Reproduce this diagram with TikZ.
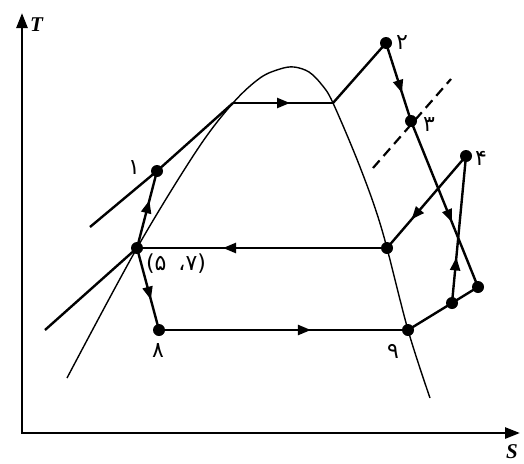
\documentclass[tikz,border=0pt]{standalone}
\usepackage{fontspec}
\setmainfont{Liberation Serif}
\newfontfamily\fa{DejaVu Sans}
\usetikzlibrary{arrows.meta,decorations.markings}
\begin{document}
\begin{tikzpicture}[x=1pt,y=-1pt,
  thickline/.style={line width=2.4pt},
  thinline/.style={line width=1.4pt},
  axisline/.style={line width=2.6pt,line join=miter,
     arrows={Triangle[length=15pt,width=11pt]-Triangle[length=15pt,width=11pt]}},
  dot/.style={circle,fill=black,inner sep=0pt,minimum size=12pt},
  midarrow/.style={postaction={decorate},decoration={markings,
     mark=at position #1 with {\arrow{Triangle[length=13pt,width=10pt]}}}},
  lab/.style={font=\fa\fontsize{22}{22}\selectfont,inner sep=0pt},
  axlab/.style={font=\fontsize{21}{21}\selectfont\bfseries\itshape,inner sep=0pt}]
\useasboundingbox (0,0) rectangle (524,463);

% axes
\coordinate (ytop) at (22,13);
\coordinate (O) at (22,433);
\coordinate (xend) at (520,433);
\draw[axisline] (ytop) -- (O) -- (xend);
\node[axlab,anchor=west] (T) at (30,25) {T};
\node[axlab,anchor=south east] (S) at (518,459) {S};

% saturation dome
\draw[thinline] plot[smooth,tension=0.55] coordinates {
  (67,378) (137,248) (197,150) (233,103) (260,78) (280,69) (294,67)
  (309,72) (322,85) (333,103) (360,167) (382,230) (408,330) (430,398)};

% state points
\node[dot] (p1) at (157,171) {};
\node[dot] (p2) at (386,43) {};
\node[dot] (p3) at (411,121) {};
\node[dot] (p4) at (466,156) {};
\node[dot] (p57) at (137,248) {};
\node[dot] (p8) at (159,330) {};
\node[dot] (p9) at (408,330) {};
\node[dot] (pv) at (387,248) {};
\node[dot] (pa) at (478,287) {};
\node[dot] (pb) at (452,303) {};
\coordinate (A) at (233,103);
\coordinate (B) at (333,103);
\coordinate (t1) at (90,227);
\coordinate (t2) at (45,330);
\coordinate (d1) at (373,168);
\coordinate (d2) at (451,79);

% tangent lines
\draw[thickline] (t1) -- (p1.center) -- (A);
\draw[thickline] (t2) -- (p57.center);

% cycle
\draw[thickline,midarrow=0.57] (A) -- (B);
\draw[thickline] (B) -- (p2.center);
\draw[thickline,midarrow=0.64] (p2.center) -- (p3.center);
\draw[thickline,midarrow=0.61] (p3.center) -- (pa.center);
\draw[thickline] (pa.center) -- (pb.center) -- (p9.center);
\draw[thickline,midarrow=0.31] (pb.center) -- (p4.center);
\draw[thickline,midarrow=0.69] (p4.center) -- (pv.center);
\draw[thickline,midarrow=0.656] (pv.center) -- (p57.center);
\draw[thickline,midarrow=0.62] (p57.center) -- (p1.center);
\draw[thickline,midarrow=0.63] (p57.center) -- (p8.center);
\draw[thickline,midarrow=0.61] (p8.center) -- (p9.center);

% dashed line
\draw[line width=2.2pt,dash pattern=on 10pt off 6pt] (d1) -- (d2);

% labels
\node[lab] (l1) at (134,168) {۱};
\node[lab] (l2) at (402,43) {۲};
\node[lab] (l3) at (429,125) {۳};
\node[lab] (l4) at (481,158) {۴};
\node[lab] (l57) at (176,264) {(۵\hspace{12pt}،۷)};
\node[lab] (l8) at (158,351) {۸};
\node[lab] (l9) at (393,351) {۹};
\end{tikzpicture}
\end{document}
